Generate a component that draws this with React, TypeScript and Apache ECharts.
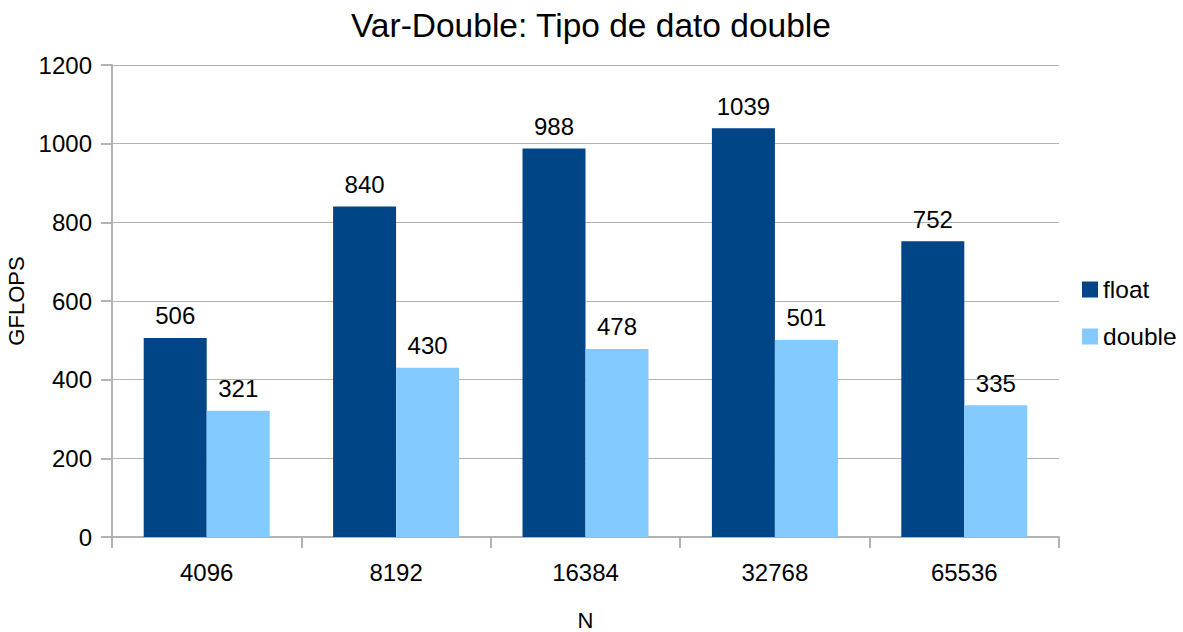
import React, { useEffect, useRef } from "react";
import * as echarts from "echarts";

const categories = ["4096", "8192", "16384", "32768", "65536"];
const floatValues = [506, 840, 988, 1039, 752];
const doubleValues = [321, 430, 478, 501, 335];
const seriesNames = ["float", "double"];
const yTicks = { min: 0, max: 1200, interval: 200 };

const FONT = "'Liberation Sans', Arial, sans-serif";
const AXIS_GRAY = "#b3b3b3";

export default function App() {
  const ref = useRef<HTMLDivElement>(null);

  useEffect(() => {
    document.body.style.margin = "0";
    const chart = echarts.init(ref.current!, null, { renderer: "svg" });
    const label = {
      show: true,
      position: "top" as const,
      distance: 10,
      fontSize: 24,
      color: "#000",
      fontFamily: FONT,
    };
    chart.setOption({
      animation: false,
      textStyle: { fontFamily: FONT },
      title: {
        text: "Var-Double: Tipo de dato double",
        left: 346,
        top: 3,
        textStyle: { fontSize: 33.5, fontWeight: "normal", color: "#000", fontFamily: FONT },
      },
      legend: {
        orient: "vertical",
        left: 1077,
        top: 272,
        itemWidth: 16,
        itemHeight: 16,
        itemGap: 22,
        icon: "rect",
        textStyle: { fontSize: 24.5, color: "#000", fontFamily: FONT },
        data: seriesNames,
      },
      grid: { left: 112, right: 124, top: 65, bottom: 95, outerBoundsMode: "none" },
      xAxis: {
        type: "category",
        data: categories,
        name: "N",
        nameLocation: "middle",
        nameGap: 72,
        nameTextStyle: { fontSize: 22, color: "#000", fontFamily: FONT },
        axisLine: { lineStyle: { color: AXIS_GRAY, width: 2 } },
        axisTick: { show: true, length: 11, lineStyle: { color: AXIS_GRAY, width: 2 } },
        axisLabel: { fontSize: 24, color: "#000", margin: 23, fontFamily: FONT },
      },
      yAxis: {
        type: "value",
        min: yTicks.min,
        max: yTicks.max,
        interval: yTicks.interval,
        name: "GFLOPS",
        nameLocation: "middle",
        nameGap: 78,
        nameRotate: 90,
        nameTextStyle: { fontSize: 22, color: "#000", fontFamily: FONT },
        axisLine: { show: true, lineStyle: { color: AXIS_GRAY, width: 2 } },
        axisTick: { show: true, length: 11, lineStyle: { color: AXIS_GRAY, width: 2 } },
        axisLabel: {
          fontSize: 24,
          color: "#000",
          margin: 20,
          fontFamily: FONT,
          formatter: (v: number) => String(v),
        },
        splitLine: { lineStyle: { color: AXIS_GRAY, width: 1 } },
      },
      series: [
        {
          name: seriesNames[0],
          type: "bar",
          data: floatValues,
          barWidth: 63,
          barGap: "0%",
          itemStyle: { color: "#004586" },
          label,
        },
        {
          name: seriesNames[1],
          type: "bar",
          data: doubleValues,
          barWidth: 63,
          barGap: "0%",
          itemStyle: { color: "#83caff" },
          label,
        },
      ],
    });
    return () => chart.dispose();
  }, []);

  return <div ref={ref} style={{ width: 1183, height: 632 }} />;
}
